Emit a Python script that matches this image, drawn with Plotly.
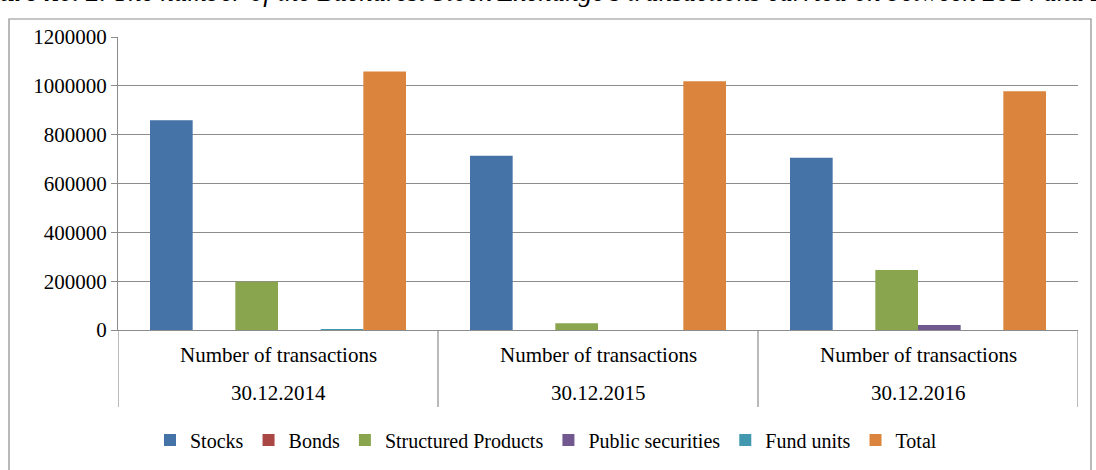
import plotly.graph_objects as go

dates = ["30.12.2014", "30.12.2015", "30.12.2016"]
measure = ["Number of transactions"] * 3
series_names = ["Stocks", "Bonds", "Structured Products", "Public securities", "Fund units", "Total"]
stocks = [859000, 714000, 705000]
bonds = [0, 0, 0]
structured = [198000, 28000, 246000]
public_sec = [0, 0, 20000]
fund_units = [1500, 0, 0]
total = [1059000, 1019000, 978000]
colors = ["#4572A7", "#AA4643", "#89A54E", "#71588F", "#4198AF", "#DB843D"]
y_ticks = [0, 200000, 400000, 600000, 800000, 1000000, 1200000]

FONT = "Liberation Serif, Times New Roman, serif"
FS = 21
GRID = "#8c8c8c"
W, H = 1096, 470
L, R, T, B = 118, 18, 37, 140
ph = H - T - B

fig = go.Figure()
for name, vals, col in zip(series_names, [stocks, bonds, structured, public_sec, fund_units, total], colors):
    fig.add_trace(go.Bar(x=dates, y=vals, name=name, marker=dict(color=col, line=dict(width=0))))

def py(pix):
    return (H - B - pix) / ph

def px(pix):
    return (pix - L) / (W - L - R)

fig.update_layout(
    width=W, height=H,
    margin=dict(l=L, r=R, t=T, b=B, autoexpand=False),
    paper_bgcolor="white", plot_bgcolor="white",
    barmode="group", bargap=0.2, bargroupgap=0,
    font=dict(family=FONT, size=FS, color="black"),
    legend=dict(orientation="h", x=px(546), xanchor="center", y=py(440), yanchor="middle",
                font=dict(family=FONT, size=20), itemwidth=30, tracegroupgap=0),
    showlegend=True,
)
fig.update_yaxes(range=[0, 1200000], tickvals=y_ticks, ticktext=[str(v) for v in y_ticks],
                 showgrid=True, gridcolor=GRID, gridwidth=1.2,
                 showline=True, linecolor=GRID, linewidth=1.2,
                 ticks="outside", ticklen=6, tickcolor=GRID, tickwidth=1.2,
                 tickfont=dict(family=FONT, size=FS),
                 zeroline=False, fixedrange=True, automargin=False)
fig.update_xaxes(type="category", showline=True, linecolor=GRID, linewidth=1.2,
                 showticklabels=False, ticks="", showgrid=False, fixedrange=True, automargin=False,
                 range=[-0.5, len(dates) - 0.5])

# two-level category labels and dividers
for i, d in enumerate(dates):
    fig.add_annotation(xref="x", yref="paper", x=i, y=py(355), text=measure[i], showarrow=False,
                       xanchor="center", yanchor="middle", font=dict(family=FONT, size=FS))
    fig.add_annotation(xref="x", yref="paper", x=i, y=py(393), text=d, showarrow=False,
                       xanchor="center", yanchor="middle", font=dict(family=FONT, size=FS))
for k in range(len(dates) + 1):
    fig.add_shape(type="line", xref="x", yref="paper", x0=k - 0.5, x1=k - 0.5, y0=py(330), y1=py(407),
                  line=dict(color=GRID, width=1.2))

# outer chart border
fig.add_shape(type="rect", xref="paper", yref="paper", x0=px(9), x1=px(1091), y0=py(490), y1=py(19),
              line=dict(color=GRID, width=1.2), fillcolor="rgba(0,0,0,0)", layer="below")

fig.add_annotation(xref="paper", yref="paper", x=px(552), y=py(9), xanchor="center", yanchor="bottom",
                   text="<b><i>Figure no. 2.</i></b><i> The number of the Bucharest Stock Exchange's transactions carried on between 2014 and 2016</i>",
                   showarrow=False, font=dict(family=FONT, size=27, color="black"))

fig.write_html("out.html", config={"displayModeBar": False},
               post_script="document.body.style.margin='0';document.body.style.overflow='hidden';")
